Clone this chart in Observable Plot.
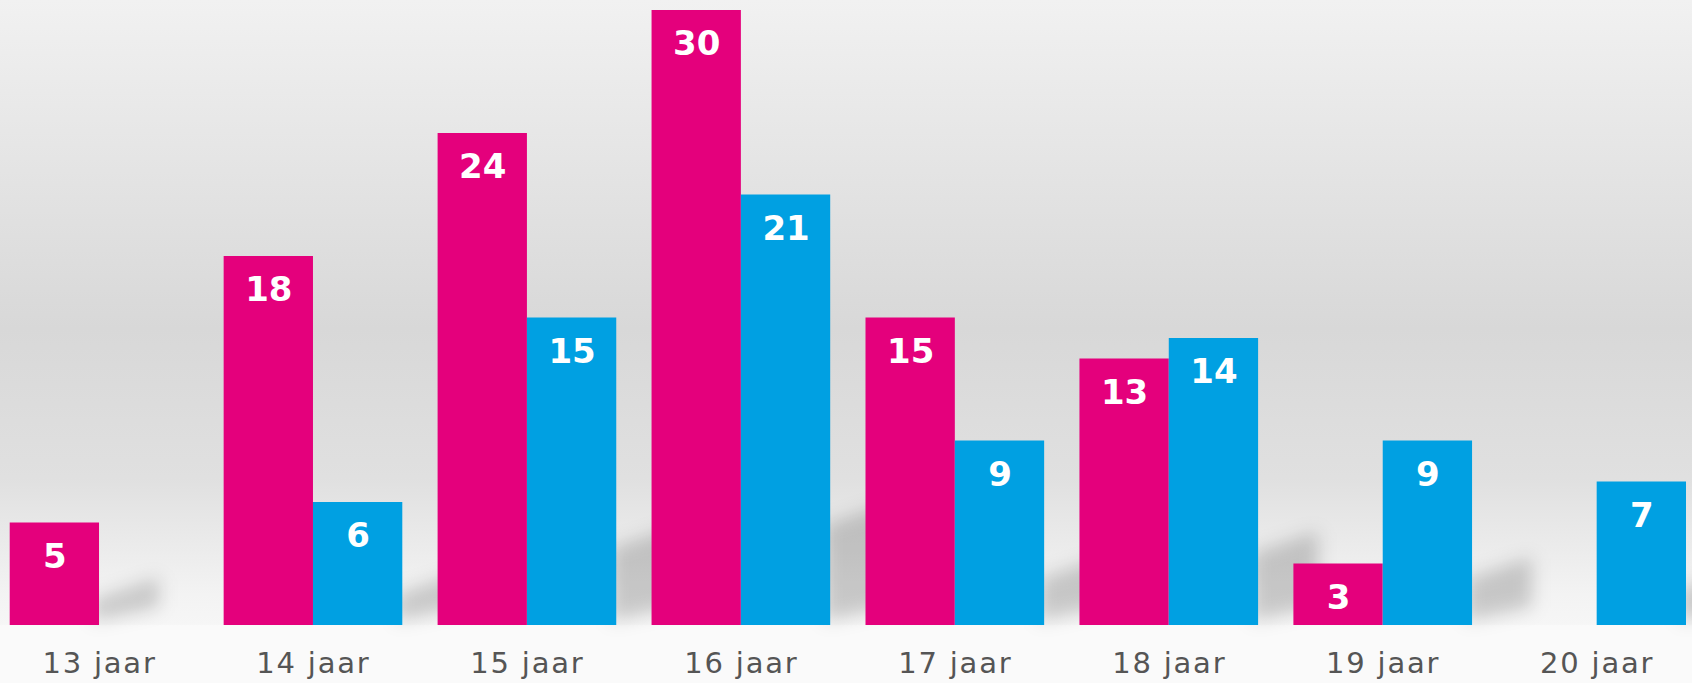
<!DOCTYPE html>
<html>
<head>
<meta charset="utf-8">
<script src="https://cdn.jsdelivr.net/npm/d3@7"></script>
<script src="https://cdn.jsdelivr.net/npm/@observablehq/plot@0.6"></script>
<style>
  html, body { margin: 0; padding: 0; background: #fafafa; }
  #chart svg { display: block; }
</style>
</head>
<body>
<div id="chart"></div>
<script>
const ages = ["13 jaar", "14 jaar", "15 jaar", "16 jaar", "17 jaar", "18 jaar", "19 jaar", "20 jaar"];
const groups = ["meisjes", "jongens"];
const meisjes = [5, 18, 24, 30, 15, 13, 3, null];
const jongens = [null, 6, 15, 21, 9, 14, 9, 7];
const colors = ["#e4007c", "#00a0e2"];

const rows = [];
ages.forEach((a, i) => {
  if (meisjes[i] != null) rows.push({age: a, group: groups[0], value: meisjes[i]});
  if (jongens[i] != null) rows.push({age: a, group: groups[1], value: jongens[i]});
});

const chart = Plot.plot({
  width: 1692,
  height: 683,
  marginTop: 10,
  marginBottom: 58,
  marginLeft: 9.7,
  marginRight: 6,
  style: {
    background: "linear-gradient(to bottom, #f1f1f1 0%, #e4e4e4 25%, #d8d8d8 48%, #e0e0e0 70%, #f3f3f3 87%, #f6f6f6 91.4%, #fafafa 91.6%, #fafafa 100%)",
    fontFamily: "DejaVu Sans, Verdana, sans-serif"
  },
  fx: {domain: ages, paddingInner: 0.165, paddingOuter: 0, round: false, label: null},
  x: {domain: groups, padding: 0, round: false, axis: null},
  y: {domain: [0, 30], axis: null},
  color: {domain: groups, range: colors},
  marks: [
    Plot.barY(rows, {fx: "age", x: "group", y: "value", fill: "group"}),
    Plot.text(rows, {fx: "age", x: "group", y: "value", text: d => String(d.value), dy: 34,
      fill: "white", fontSize: 34, fontWeight: "bold", fontFamily: "DejaVu Sans"}),
    Plot.axisFx({anchor: "bottom", tickSize: 0, tickPadding: 27, fontSize: 29, fill: "#555", label: null})
  ]
});
chart.querySelectorAll("[aria-label='fx-axis tick label'] text").forEach(t => t.style.letterSpacing = "1.8px");
document.getElementById("chart").appendChild(chart);

// decorative floor shadows behind each group, positioned from the rendered bars
(function addShadows() {
  const ns = "http://www.w3.org/2000/svg";
  const barMark = chart.querySelector("g[aria-label='bar']");
  if (!barMark) return;
  const svgBox = chart.getBoundingClientRect();
  const byParent = new Map();
  barMark.querySelectorAll("rect").forEach(r => {
    const b = r.getBoundingClientRect();
    const p = r.parentNode;
    const cur = byParent.get(p);
    if (!cur || b.right > cur.right) byParent.set(p, b);
  });
  const defs = document.createElementNS(ns, "defs");
  defs.innerHTML = '<filter id="shblur" x="-50%" y="-50%" width="200%" height="200%"><feGaussianBlur stdDeviation="9"/></filter>';
  const g = document.createElementNS(ns, "g");
  g.setAttribute("filter", "url(#shblur)");
  byParent.forEach(b => {
    const xr = b.right - svgBox.left;
    const y0 = b.bottom - svgBox.top;
    const h = b.height;
    const k = Math.min(h * 0.25, 100);
    const w = 60, s = 22;
    const poly = document.createElementNS(ns, "polygon");
    poly.setAttribute("points", [
      [xr - 6, y0 - 4], [xr - 6, y0 - k], [xr + w, y0 - k - s], [xr + w, y0 - s + 4]
    ].map(p => p.join(",")).join(" "));
    poly.setAttribute("fill", "#000");
    poly.setAttribute("fill-opacity", "0.18");
    g.appendChild(poly);
  });
  chart.insertBefore(defs, chart.firstChild);
  barMark.parentNode.insertBefore(g, barMark);
})();
</script>
</body>
</html>
